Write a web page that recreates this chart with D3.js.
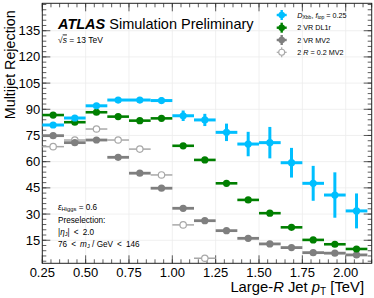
<!DOCTYPE html>
<html><head><meta charset="utf-8">
<script src="https://cdn.jsdelivr.net/npm/d3@7"></script>
<style>
html,body{margin:0;padding:0;background:#fff;}
svg{display:block;font-family:"Liberation Sans",Arial,Helvetica,sans-serif;}
</style></head>
<body>
<svg id="c" width="374" height="298"></svg>
<script>
// ---- data ----
const binLo = [0.25,0.375,0.5,0.625,0.75,0.875,1.0,1.125,1.25,1.375,1.5,1.625,1.75,1.875,2.0];
const binHi = [0.375,0.5,0.625,0.75,0.875,1.0,1.125,1.25,1.375,1.5,1.625,1.75,1.875,2.0,2.125];
const dxbbValues = [81.0,85.0,92.0,95.3,95.3,95.0,86.3,83.9,76.8,70.1,70.9,59.4,47.6,40.9,31.8];
const dxbbErrors = [1.2,1.2,1.5,1.5,1.5,1.8,3,3.5,5,7,9,8.5,10,13,10];
const dl1rValues = [86.7,82.6,88.3,85.8,83.5,84.8,69.1,61.0,47.6,38.1,30.5,22.4,15.2,12.7,10.0];
const vrMv2Values = [74.9,70.9,72.4,62.5,53.4,44.8,33.3,26.2,20.5,16.1,12.9,10.8,7.9,7.6,6.6];
const r02Mv2Values = [68.6,72.4,78.7,72.4,67.2,52.4,23.8,4.7];
const xTicks = [0.25,0.5,0.75,1.0,1.25,1.5,1.75,2.0];
const xTickLabels = ["0.25","0.50","0.75","1.00","1.25","1.50","1.75","2.00"];
const yTicks = [15,30,45,60,75,90,105,120,135];
const legendLabels = ["dxbb","2 VR DL1r","2 VR MV2","2 R = 0.2 MV2"];

// ---- layout ----
const svg = d3.select("#c");
const L = 42.3, R = 371.7, T = 3.3, B = 263.3;
const x = d3.scaleLinear().domain([0.25, 2.15]).range([L, R]);
const y = d3.scaleLinear().domain([1.8, 150.7]).range([B, T]);

// grid
const grid = svg.append("g");
grid.selectAll("line.gx").data(xTicks.slice(1)).join("line")
  .attr("x1", d=>x(d)).attr("x2", d=>x(d)).attr("y1", T).attr("y2", B)
  .attr("stroke", "#ececec").attr("stroke-width", 0.8);
grid.selectAll("line.gy").data(yTicks).join("line")
  .attr("x1", L).attr("x2", R).attr("y1", d=>y(d)).attr("y2", d=>y(d))
  .attr("stroke", "#ececec").attr("stroke-width", 0.8);

// axes (ROOT-like, ticks inside)
const tickCol = "#333";
const xMinor = d3.range(0.25, 2.151, 0.05);
const yMinor = d3.range(3, 150.7, 3);
function xTicksDraw(ypos, dir){
  const g = svg.append("g");
  g.selectAll("line.mi").data(xMinor).join("line")
    .attr("x1", d=>x(d)).attr("x2", d=>x(d)).attr("y1", ypos).attr("y2", ypos+dir*4)
    .attr("stroke", tickCol).attr("stroke-width", 0.8);
  g.selectAll("line.ma").data(xTicks).join("line")
    .attr("x1", d=>x(d)).attr("x2", d=>x(d)).attr("y1", ypos).attr("y2", ypos+dir*8)
    .attr("stroke", tickCol).attr("stroke-width", 0.8);
}
function yTicksDraw(xpos, dir){
  const g = svg.append("g");
  g.selectAll("line.mi").data(yMinor).join("line")
    .attr("x1", xpos).attr("x2", xpos+dir*4).attr("y1", d=>y(d)).attr("y2", d=>y(d))
    .attr("stroke", tickCol).attr("stroke-width", 0.8);
  g.selectAll("line.ma").data(yTicks).join("line")
    .attr("x1", xpos).attr("x2", xpos+dir*8).attr("y1", d=>y(d)).attr("y2", d=>y(d))
    .attr("stroke", tickCol).attr("stroke-width", 0.8);
}
xTicksDraw(B, -1); xTicksDraw(T, 1);
yTicksDraw(L, 1); yTicksDraw(R, -1);

svg.append("rect").attr("x", L).attr("y", T).attr("width", R-L).attr("height", B-T)
  .attr("fill", "none").attr("stroke", "#222").attr("stroke-width", 1);

// tick labels
svg.append("g").selectAll("text").data(xTicks).join("text")
  .attr("x", d=>x(d)).attr("y", B+14).attr("text-anchor", "middle")
  .attr("font-size", 13).attr("fill", "#000").text((d,i)=>xTickLabels[i]);
svg.append("g").selectAll("text").data(yTicks).join("text")
  .attr("x", L-2).attr("y", d=>y(d)+4.5).attr("text-anchor", "end")
  .attr("font-size", 13).attr("fill", "#000").text(d=>d);

// axis titles
const xt = svg.append("text").attr("x", 364).attr("y", 292).attr("text-anchor", "end")
  .attr("font-size", 14.8).attr("fill", "#000");
xt.append("tspan").text("Large-");
xt.append("tspan").attr("font-style", "italic").text("R");
xt.append("tspan").text(" Jet ");
xt.append("tspan").attr("font-style", "italic").text("p");
xt.append("tspan").attr("font-size", 10).attr("dy", 3).text("T");
xt.append("tspan").attr("dy", -3).text(" [TeV]");

svg.append("text").attr("transform", `translate(14.5,${T+7}) rotate(-90)`)
  .attr("text-anchor", "end").attr("font-size", 14.3).attr("fill", "#000")
  .text("Multijet Rejection");

// ---- series ----
const series = [
  {vals: r02Mv2Values, err: null, color: "#a8a8a8", open: true, hw: 1.5, r: 3.2},
  {vals: vrMv2Values, err: null, color: "#7f7f7f", open: false, hw: 2.8, r: 3.6},
  {vals: dl1rValues, err: null, color: "#007f00", open: false, hw: 2.6, r: 3.6},
  {vals: dxbbValues, err: dxbbErrors, color: "#00bfff", open: false, hw: 3.0, r: 3.6},
];
series.forEach(s => {
  const g = svg.append("g");
  const idx = d3.range(s.vals.length);
  g.selectAll("line.h").data(idx).join("line")
    .attr("x1", i=>x(binLo[i])).attr("x2", i=>x(binHi[i]))
    .attr("y1", i=>y(s.vals[i])).attr("y2", i=>y(s.vals[i]))
    .attr("stroke", s.color).attr("stroke-width", s.hw);
  if (s.err) {
    g.selectAll("line.v").data(idx).join("line")
      .attr("x1", i=>x((binLo[i]+binHi[i])/2)).attr("x2", i=>x((binLo[i]+binHi[i])/2))
      .attr("y1", i=>y(s.vals[i]-s.err[i])).attr("y2", i=>y(s.vals[i]+s.err[i]))
      .attr("stroke", s.color).attr("stroke-width", s.hw);
  }
  g.selectAll("circle").data(idx).join("circle")
    .attr("cx", i=>x((binLo[i]+binHi[i])/2)).attr("cy", i=>y(s.vals[i]))
    .attr("r", s.r)
    .attr("fill", s.open ? "#fff" : s.color)
    .attr("stroke", s.color).attr("stroke-width", s.open ? 1.2 : 0);
});

// ---- texts ----
const at = svg.append("text").attr("x", 58).attr("y", 29.3).attr("font-size", 14.5).attr("fill", "#000");
at.append("tspan").attr("font-weight", "bold").attr("font-style", "italic").text("ATLAS");
at.append("tspan").text(" Simulation Preliminary");

const sq = svg.append("text").attr("x", 58).attr("y", 42.5).attr("font-size", 8.5).attr("fill", "#000");
sq.append("tspan").text("\u221A");
sq.append("tspan").attr("font-style", "italic").attr("text-decoration", "overline").text("s");
sq.append("tspan").text(" = 13 TeV");

const annFs = 8.2;
const sp = "\u2002";
const a1 = svg.append("text").attr("x", 58).attr("y", 209.5).attr("font-size", annFs);
a1.append("tspan").attr("font-style", "italic").text("\u03B5");
a1.append("tspan").attr("font-size", 5.8).attr("dy", 1.5).text("Higgs");
a1.append("tspan").attr("dy", -1.5).text(" = 0.6");
svg.append("text").attr("x", 58).attr("y", 223).attr("font-size", annFs).text("Preselection:");
const a3 = svg.append("text").attr("x", 58).attr("y", 234.5).attr("font-size", annFs);
a3.append("tspan").text("|");
a3.append("tspan").attr("font-style", "italic").text("\u03B7");
a3.append("tspan").attr("font-size", 5.8).attr("dy", 1.5).text("J");
a3.append("tspan").attr("dy", -1.5).text("|" + sp + "<" + sp + "2.0");
const a4 = svg.append("text").attr("x", 58).attr("y", 246.5).attr("font-size", annFs);
a4.append("tspan").text("76" + sp + "<" + sp);
a4.append("tspan").attr("font-style", "italic").text("m");
a4.append("tspan").attr("font-size", 5.8).attr("dy", 1.5).text("J");
a4.append("tspan").attr("dy", -1.5).text(" / GeV" + sp + "<" + sp + "146");

// ---- legend ----
const legY = [15, 27.7, 40, 52.3];
const legSeries = [series[3], series[2], series[1], series[0]];
const lg = svg.append("g");
legSeries.forEach((s, i) => {
  const cy = legY[i], cx = 281.7;
  lg.append("line").attr("x1", cx-5).attr("x2", cx+5).attr("y1", cy).attr("y2", cy)
    .attr("stroke", s.color).attr("stroke-width", s.open ? 1.2 : 2.4);
  lg.append("line").attr("x1", cx).attr("x2", cx).attr("y1", cy-5).attr("y2", cy+5)
    .attr("stroke", s.color).attr("stroke-width", s.open ? 1.2 : 2.4);
  lg.append("circle").attr("cx", cx).attr("cy", cy).attr("r", s.open ? 3 : 3.3)
    .attr("fill", s.open ? "#fff" : s.color).attr("stroke", s.color).attr("stroke-width", s.open ? 1.1 : 0);
  const t = lg.append("text").attr("x", 297.3).attr("y", cy+2.6).attr("font-size", 7.2).attr("fill", "#000");
  if (i === 0) {
    t.append("tspan").attr("font-style", "italic").text("D");
    t.append("tspan").attr("font-size", 5).attr("dy", 1.5).text("Xbb");
    t.append("tspan").attr("dy", -1.5).text(", ");
    t.append("tspan").attr("font-style", "italic").text("f");
    t.append("tspan").attr("font-size", 5).attr("dy", 1.5).text("top");
    t.append("tspan").attr("dy", -1.5).text(" = 0.25");
  } else if (i === 3) {
    t.append("tspan").text("2 ");
    t.append("tspan").attr("font-style", "italic").text("R");
    t.append("tspan").text(" = 0.2 MV2");
  } else {
    t.text(legendLabels[i]);
  }
});
</script>
</body></html>
